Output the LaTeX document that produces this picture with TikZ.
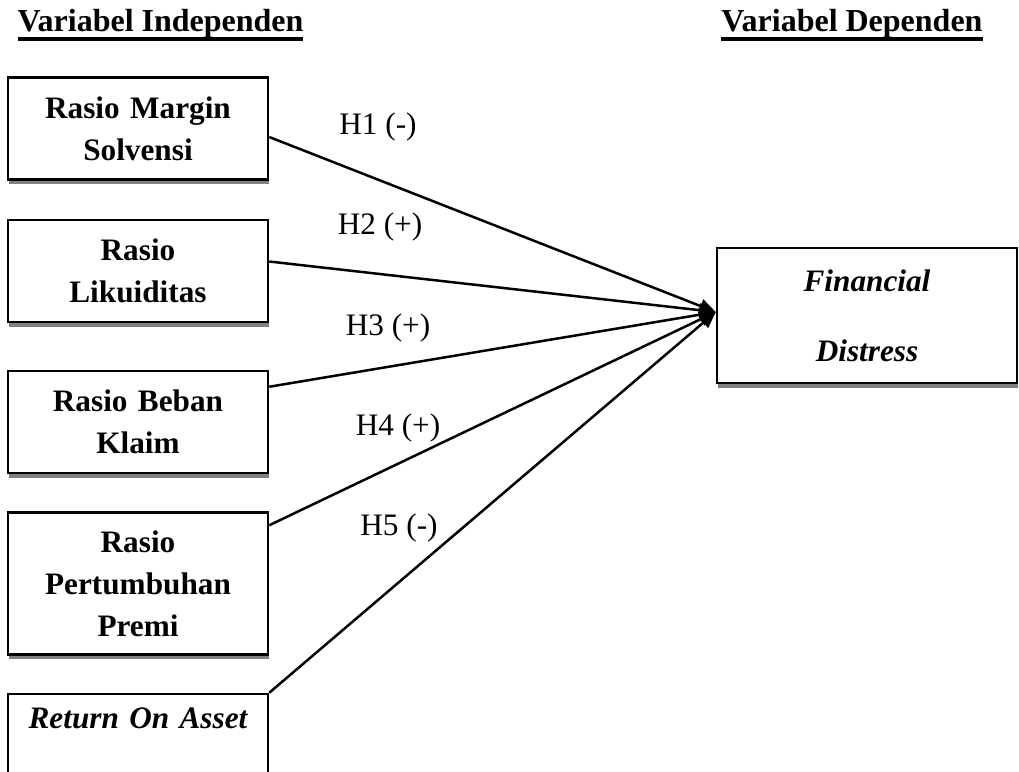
\documentclass[tikz,border=0pt]{standalone}
\usepackage{fontspec}
\setmainfont{Liberation Serif}
\usepackage{tikz}
\usetikzlibrary{arrows.meta,positioning,shadows}
\newcommand{\thickul}[1]{\setbox0\hbox{#1}\rlap{\rule[-3.6pt]{\wd0}{1.3pt}}\box0}
\tikzset{
  varbox/.style ={draw=black,line width=1pt,fill=white,inner sep=0pt,align=center,
                  text width=98pt,minimum width=104pt,minimum height=40.8pt,
                  font=\bfseries\fontsize{12.5}{16.8}\selectfont,
                  drop shadow={shadow xshift=0.5pt,shadow yshift=-1.8pt,
                               fill=black!50,opacity=1}},
  depbox/.style ={varbox,text width=112pt,minimum width=120pt,minimum height=54pt,
                  font=\bfseries\itshape\fontsize{12.5}{28}\selectfont},
  head/.style   ={font=\bfseries\fontsize{12.8}{15}\selectfont,inner sep=0pt,anchor=base},
  hyp/.style    ={font=\fontsize{12.5}{15}\selectfont,inner sep=0pt,anchor=base},
  link/.style   ={-{Triangle[length=6.5pt,width=5.6pt]},line width=1pt,draw=black}
}

\begin{document}
\begin{tikzpicture}[node distance=14.8pt]
    \useasboundingbox (0,0) rectangle (407.6pt,-308.4pt);
    \clip (0,0) rectangle (407.6pt,-308.4pt);
    % headings
    \node[head] (indep) at (64.2pt,-12.6pt) {\thickul{Variabel Independen}};
    \node[head] (dep) at (340.8pt,-12.6pt) {\thickul{Variabel Dependen}};
    % independent variables
    \node[varbox] (rms) at (55.2pt,-51.4pt) {Rasio Margin\\Solvensi};
    \node[varbox,below=15.2pt of rms] (rl) {Rasio\\Likuiditas};
    \node[varbox,below=18.6pt of rl] (rbk) {Rasio Beban\\Klaim};
    \node[varbox,below=of rbk,minimum height=56.8pt] (rpp) {Rasio\\Pertumbuhan\\Premi};
    \node[varbox,below=of rpp,font=\bfseries\itshape\fontsize{12.5}{16.8}\selectfont] (roa)
      {Return On Asset\\\strut};
    % dependent variable
    \node[depbox] (fd) at (346.8pt,-126.2pt) {Financial\\Distress};
    \coordinate (tip) at ([yshift=1.4pt]fd.west);
    % hypotheses
    \draw[link] ([yshift=-3.4pt]rms.east) -- (tip);
    \draw[link] ([yshift=3.8pt]rl.east) -- (tip);
    \draw[link] ([yshift=-6.8pt]rbk.north east) -- (tip);
    \draw[link] ([yshift=-5.6pt]rpp.north east) -- (tip);
    \draw[link] (roa.north east) -- (tip);
    \node[hyp] (h1) at (151.2pt,-53.6pt) {H1 (-)};
    \node[hyp] (h2) at (152pt,-93.6pt) {H2 (+)};
    \node[hyp] (h3) at (155.2pt,-134pt) {H3 (+)};
    \node[hyp] (h4) at (159.2pt,-174pt) {H4 (+)};
    \node[hyp] (h5) at (159.6pt,-214pt) {H5 (-)};
  \end{tikzpicture}
\end{document}
